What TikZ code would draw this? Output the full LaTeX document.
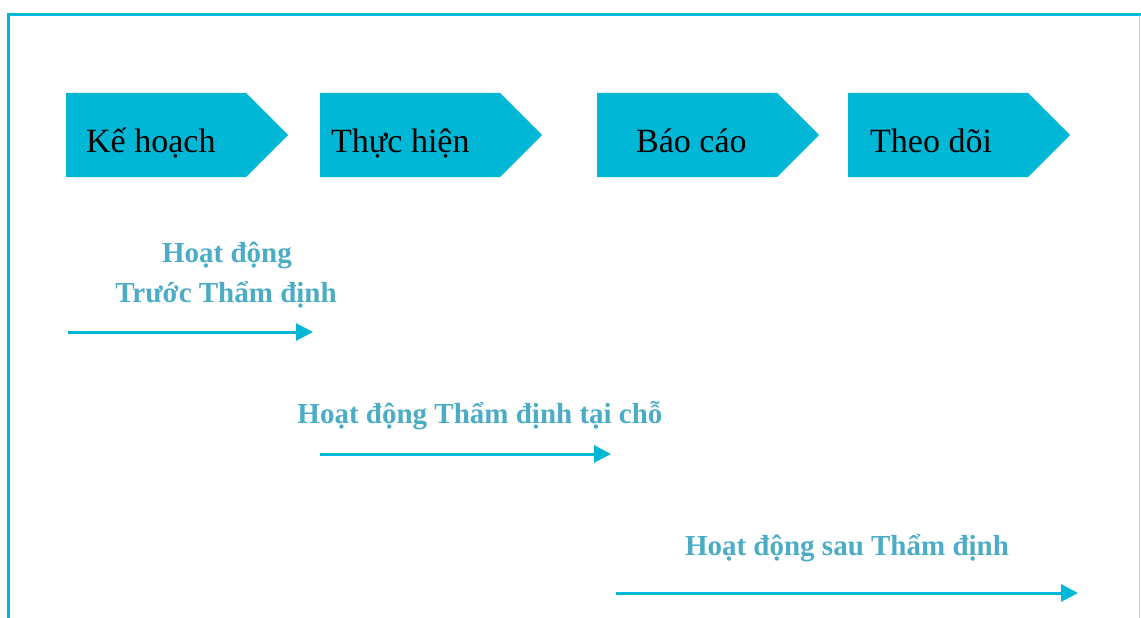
\documentclass[tikz,border=0pt]{standalone}
\usepackage{fontspec}
\setmainfont{Liberation Serif}
\usetikzlibrary{shapes.symbols,arrows.meta}
\definecolor{cyanfill}{RGB}{0,184,214}
\definecolor{labelblue}{RGB}{75,172,198}
\definecolor{edgelight}{RGB}{150,218,232}
\tikzset{
  chevron/.style={shape=signal, signal to=east, signal from=nowhere, signal pointer angle=90,
    fill=cyanfill, draw=none, inner sep=0pt, minimum width=222pt, minimum height=84pt, anchor=west},
  steptext/.style={anchor=base west, inner sep=0pt, font=\fontsize{34}{40}\selectfont, text=black},
  actlabel/.style={anchor=base, inner sep=0pt, font=\bfseries\fontsize{29}{36}\selectfont, text=labelblue},
  flow/.style={draw=cyanfill, line width=3pt, -{Triangle[length=17pt,width=17pt]}},
  frame/.style={draw=cyanfill, line width=2.5pt}
}
\begin{document}
\begin{tikzpicture}[x=1pt,y=-1pt]
\useasboundingbox (0,0) rectangle (1141,618);
% frame
\draw[frame] (8.5,618) -- (8.5,14.5) -- (1141,14.5);
\draw[draw=edgelight, line width=1pt] (1139.5,15) -- (1139.5,618);
% chevrons
\node[chevron] (c1) at (66,135) {};
\node[chevron] (c2) at (320,135) {};
\node[chevron] (c3) at (597,135) {};
\node[chevron] (c4) at (848,135) {};
\node[steptext] (t1) at (86,152) {Kế hoạch};
\node[steptext] (t2) at (331,152) {Thực hiện};
\node[steptext] (t3) at (636,152) {Báo cáo};
\node[steptext] (t4) at (870,152) {Theo dõi};
% activity labels
\node[actlabel] (l1a) at (227,262) {Hoạt động};
\node[actlabel] (l1b) at (226,302) {Trước Thẩm định};
\node[actlabel] (l2) at (480,423) {Hoạt động Thẩm định tại chỗ};
\node[actlabel] (l3) at (847,555) {Hoạt động sau Thẩm định};
% arrows
\coordinate (a1s) at (68,332);
\coordinate (a1e) at (313,332);
\coordinate (a2s) at (320,454);
\coordinate (a2e) at (611,454);
\coordinate (a3s) at (616,593);
\coordinate (a3e) at (1078,593);
\draw[flow] (a1s) -- (a1e);
\draw[flow] (a2s) -- (a2e);
\draw[flow] (a3s) -- (a3e);
\end{tikzpicture}
\end{document}
